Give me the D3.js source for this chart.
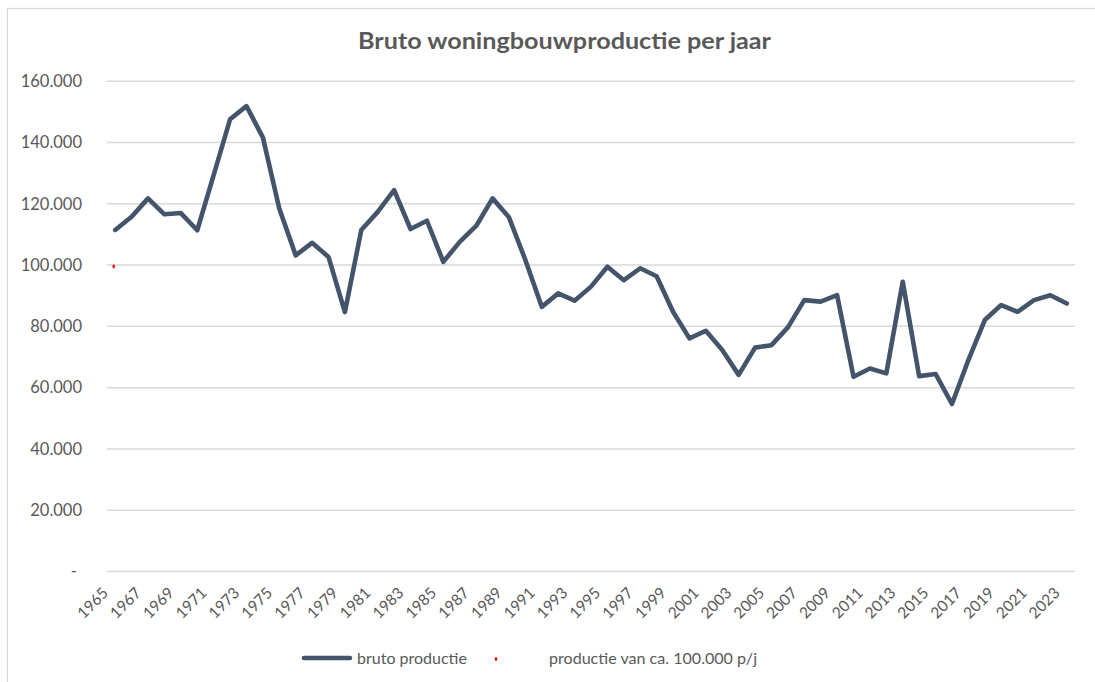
<!DOCTYPE html>
<html>
<head>
<meta charset="utf-8">
<script src="https://cdn.jsdelivr.net/npm/d3@7/dist/d3.min.js"></script>
<style>
  html, body { margin: 0; padding: 0; background: #fff; }
  svg { display: block; }
  text { font-family: Lato, "Open Sans", sans-serif; fill: #595959; }
</style>
</head>
<body>
<svg id="chart" width="1095" height="682"></svg>
<script>
const title = "Bruto woningbouwproductie per jaar";
const years = d3.range(1965, 2024);
const brutoProductie = [
  111300, 115600, 121600, 116400, 116800, 111200, 129200, 147400, 151700, 141500,
  118300, 103000, 107100, 102500, 84500, 111300, 117200, 124300, 111600, 114300,
  100900, 107400, 112600, 121600, 115400, 101500, 86200, 90600, 88200, 92800,
  99300, 94900, 98800, 96200, 84600, 75900, 78400, 72100, 64000, 72900,
  73700, 79500, 88400, 87900, 90000, 63400, 66100, 64500, 94400, 63600,
  64300, 54500, 68800, 81900, 86800, 84600, 88400, 90000, 87300
];
const referentieYears = [1965];
const referentieProductie = [99400];
const yTicks = [0, 20000, 40000, 60000, 80000, 100000, 120000, 140000, 160000];
const xTickYears = years.filter(y => (y - 1965) % 2 === 0);
const seriesNames = ["bruto productie", "productie van ca. 100.000 p/j"];

const svg = d3.select("#chart");
const lineColor = "#44546A";
const gridColor = "#d9d9d9";

svg.append("rect")
  .attr("x", 7.5).attr("y", 8.5)
  .attr("width", 1200).attr("height", 800)
  .attr("fill", "none").attr("stroke", gridColor).attr("stroke-width", 1.2);

const plotLeft = 107, plotRight = 1075, plotTop = 80.7, plotBottom = 571;

const x = d3.scaleBand().domain(years).range([plotLeft, plotRight]);
const y = d3.scaleLinear().domain([0, 160000]).range([plotBottom, plotTop]);
const xc = d => x(d) + x.bandwidth() / 2;

svg.append("text")
  .attr("x", 358).attr("y", 49)
  .attr("font-size", 22).attr("font-weight", "bold")
  .attr("textLength", 413).attr("lengthAdjust", "spacingAndGlyphs")
  .text(title);

const yAxis = d3.axisLeft(y)
  .tickValues(yTicks)
  .tickSize(-(plotRight - plotLeft))
  .tickPadding(25)
  .tickFormat(d => d === 0 ? "-" : d3.format(",")(d).replace(/,/g, "."));
const gy = svg.append("g").attr("transform", `translate(${plotLeft},0)`).call(yAxis);
gy.select(".domain").remove();
gy.selectAll(".tick line").attr("stroke", gridColor).attr("stroke-width", 1.5);
gy.selectAll(".tick text")
  .attr("font-size", 16.5).attr("fill", "#595959")
  .style("font-family", "Lato, sans-serif")
  .attr("dy", "0.35em");
gy.selectAll(".tick").filter(d => d === 0).select("text").attr("x", -30);

const xAxis = d3.axisBottom(x)
  .tickValues(xTickYears)
  .tickSize(0)
  .tickFormat(d => String(d));
const gx = svg.append("g").attr("transform", `translate(0,${plotBottom})`).call(xAxis);
gx.select(".domain").remove();
gx.selectAll(".tick text")
  .attr("font-size", 15.5).attr("fill", "#595959")
  .style("font-family", "Lato, sans-serif")
  .attr("text-anchor", "end")
  .attr("x", 0).attr("y", 0).attr("dy", 0)
  .attr("transform", "translate(-6,23) rotate(-45)");

const line = d3.line()
  .x((d, i) => xc(years[i]))
  .y(d => y(d));
svg.append("path")
  .datum(brutoProductie)
  .attr("d", line)
  .attr("fill", "none")
  .attr("stroke", lineColor)
  .attr("stroke-width", 4.6)
  .attr("stroke-linejoin", "round")
  .attr("stroke-linecap", "round");

svg.selectAll(".ref")
  .data(referentieProductie)
  .enter().append("ellipse")
  .attr("cx", (d, i) => xc(referentieYears[i]) - 1.5)
  .attr("cy", d => y(d))
  .attr("rx", 1.2).attr("ry", 2)
  .attr("fill", "#ff0000");

const lg = svg.append("g");
lg.append("line")
  .attr("x1", 304).attr("x2", 350).attr("y1", 658).attr("y2", 658)
  .attr("stroke", lineColor).attr("stroke-width", 4.6).attr("stroke-linecap", "round");
lg.append("text").attr("x", 357).attr("y", 664).attr("font-size", 16).text(seriesNames[0]);
lg.append("ellipse").attr("cx", 496).attr("cy", 659).attr("rx", 1.2).attr("ry", 2).attr("fill", "#ff0000");
lg.append("text").attr("x", 549).attr("y", 664).attr("font-size", 16)
  .attr("textLength", 208).attr("lengthAdjust", "spacingAndGlyphs")
  .text(seriesNames[1]);
</script>
</body>
</html>
